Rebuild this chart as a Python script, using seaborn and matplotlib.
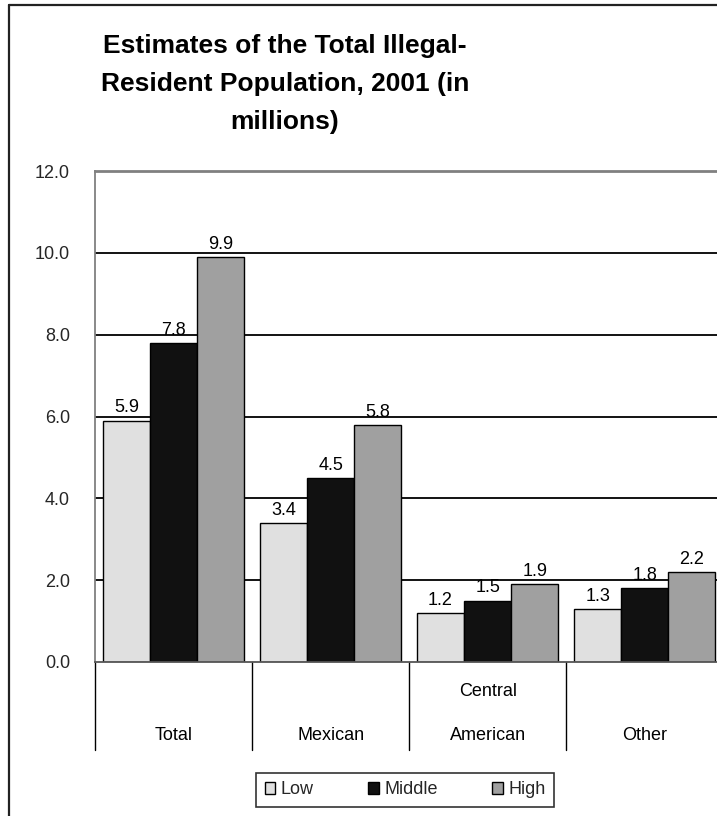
import matplotlib
matplotlib.use("Agg")
import matplotlib.pyplot as plt
from matplotlib.lines import Line2D
from matplotlib.patches import Patch
import matplotlib.transforms as mtransforms
import seaborn as sns
import pandas as pd

# Illegal-resident population estimates, 2001 (millions)
categories = ["Total", "Mexican", "Central American", "Other"]
category_lines = [["Total"], ["Mexican"], ["Central", "American"], ["Other"]]
scenarios = ["Low", "Middle", "High"]
low = [5.9, 3.4, 1.2, 1.3]
middle = [7.8, 4.5, 1.5, 1.8]
high = [9.9, 5.8, 1.9, 2.2]
y_ticks = [0, 2, 4, 6, 8, 10, 12]

colors = ["#e0e0e0", "#111111", "#a0a0a0"]

rows = []
for name, vals in zip(scenarios, [low, middle, high]):
    for cat, v in zip(categories, vals):
        rows.append({"category": cat, "scenario": name, "value": v})
df = pd.DataFrame(rows)

sns.set_theme(style="white")
plt.rcParams["font.family"] = ["Liberation Sans", "DejaVu Sans"]

W, H = 717, 816
fig = plt.figure(figsize=(W / 100, H / 100), dpi=100)
ax = fig.add_axes([95 / W, 1 - 662 / H, 1 - 95 / W, (662 - 171) / H])

sns.barplot(data=df, x="category", y="value", hue="scenario",
            order=categories, hue_order=scenarios, palette=colors,
            width=0.9, edgecolor="black", linewidth=1.0, saturation=1,
            legend=False, ax=ax)

for cont in ax.containers:
    ax.bar_label(cont, fmt="%.1f", padding=3, fontsize=13, color="black")

ax.set_ylim(0, 12)
ax.set_xlim(-0.5, 3.46)
ax.set_yticks(y_ticks)
ax.set_yticklabels([f"{t:.1f}" for t in y_ticks], fontsize=13)
ax.tick_params(axis="y", length=0, pad=18)
ax.set_xticks([])
ax.set_xlabel("")
ax.set_ylabel("")

# horizontal gridlines
for t in y_ticks[1:-1]:
    ax.axhline(t, color="black", lw=1.3, zorder=0)

ax.spines["right"].set_visible(False)
ax.spines["top"].set_color("#808080")
ax.spines["top"].set_linewidth(2)
ax.spines["left"].set_color("#808080")
ax.spines["left"].set_linewidth(1.3)
ax.spines["bottom"].set_color("#555555")
ax.spines["bottom"].set_linewidth(1.3)

# category separators and labels below the axis
trans = mtransforms.blended_transform_factory(ax.transData, ax.transAxes)
drop = -(750 - 662) / (662 - 171)
for b in [-0.5, 0.5, 1.5, 2.5]:
    ax.plot([b, b], [0, drop], color="black", lw=1.0, transform=trans,
            clip_on=False)
line_gap = 43 / (662 - 171)
base = -(735 - 662) / (662 - 171)
for i, lines in enumerate(category_lines):
    for j, txt in enumerate(reversed(lines)):
        ax.text(i, base + j * line_gap, txt, transform=trans, ha="center",
                va="center", fontsize=13, color="black")

# title
title_lines = ["Estimates of the Total Illegal-",
               "Resident Population, 2001 (in",
               "millions)"]
for txt, yp in zip(title_lines, [46, 84, 122]):
    fig.text(285 / W, 1 - yp / H, txt, ha="center", va="center",
             fontsize=19, fontweight="bold", color="black")

# legend
handles = [Patch(facecolor=c, edgecolor="black", lw=1.0) for c in colors]
leg = fig.legend(handles, scenarios, loc="center", ncol=3,
                 bbox_to_anchor=(405 / W, 1 - 790 / H), fontsize=13,
                 frameon=True, fancybox=False, edgecolor="black",
                 handlelength=0.6, handleheight=0.6, handletextpad=0.3,
                 columnspacing=3.0, borderpad=0.45, borderaxespad=0)
leg.get_frame().set_linewidth(1.2)

# outer chart frame
fig.add_artist(Line2D([8.5 / W, 8.5 / W], [0, 1 - 5 / H], color="#222222",
                      lw=1.6, transform=fig.transFigure))
fig.add_artist(Line2D([8.5 / W, 1], [1 - 5 / H, 1 - 5 / H], color="#222222",
                      lw=1.6, transform=fig.transFigure))

fig.savefig("out.png", dpi=100, facecolor="white")
